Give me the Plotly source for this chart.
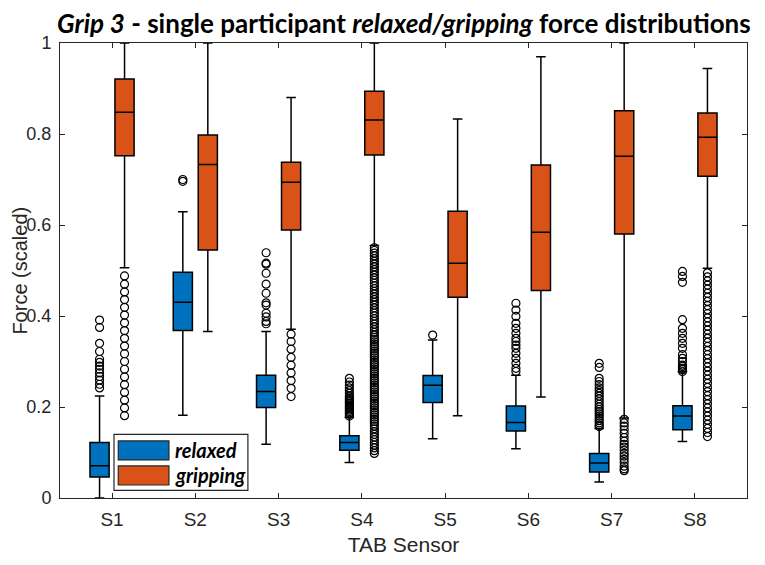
import plotly.graph_objects as go

# Sensors and box statistics
sensors = ["S1", "S2", "S3", "S4", "S5", "S6", "S7", "S8"]

relaxed_q1 = [0.046, 0.368, 0.199, 0.105, 0.210, 0.147, 0.057, 0.150]
relaxed_med = [0.071, 0.430, 0.234, 0.122, 0.248, 0.166, 0.077, 0.180]
relaxed_q3 = [0.122, 0.496, 0.270, 0.137, 0.269, 0.202, 0.098, 0.203]
relaxed_lo = [0.000, 0.182, 0.118, 0.078, 0.130, 0.108, 0.035, 0.124]
relaxed_hi = [0.224, 0.629, 0.366, 0.177, 0.347, 0.270, 0.153, 0.278]

gripping_q1 = [0.752, 0.545, 0.589, 0.754, 0.441, 0.456, 0.580, 0.707]
gripping_med = [0.848, 0.733, 0.694, 0.831, 0.516, 0.584, 0.751, 0.793]
gripping_q3 = [0.921, 0.798, 0.738, 0.894, 0.630, 0.732, 0.851, 0.846]
gripping_lo = [0.506, 0.366, 0.371, 0.555, 0.181, 0.222, 0.176, 0.505]
gripping_hi = [1.000, 1.000, 0.880, 1.000, 0.833, 0.970, 1.000, 0.944]

# Outliers per sensor
relaxed_out = [
    [0.242, 0.250, 0.259, 0.267, 0.275, 0.283, 0.290, 0.298, 0.305, 0.322, 0.340, 0.375, 0.391],
    [0.696, 0.700],
    [0.383, 0.388, 0.398, 0.406, 0.424, 0.429, 0.450, 0.470, 0.494, 0.514, 0.516, 0.539],
    [0.180, 0.184, 0.187, 0.190, 0.193, 0.196, 0.199, 0.202, 0.205, 0.208, 0.211, 0.214, 0.217,
     0.220, 0.224, 0.230, 0.236, 0.242, 0.248, 0.255, 0.263],
    [0.358],
    [0.278, 0.285, 0.296, 0.307, 0.318, 0.329, 0.336, 0.344, 0.351, 0.362, 0.373, 0.384, 0.399,
     0.413, 0.428],
    [0.157, 0.160, 0.165, 0.170, 0.175, 0.180, 0.185, 0.190, 0.195, 0.200, 0.206, 0.212, 0.218,
     0.224, 0.230, 0.236, 0.242, 0.249, 0.256, 0.263, 0.287, 0.296],
    [0.278, 0.282, 0.285, 0.289, 0.292, 0.300, 0.307, 0.315, 0.329, 0.340, 0.351, 0.362, 0.373,
     0.392, 0.474, 0.487, 0.498],
]
gripping_out = [
    [0.181, 0.198, 0.215, 0.232, 0.249, 0.266, 0.283, 0.300, 0.317, 0.334, 0.351, 0.368, 0.385,
     0.402, 0.419, 0.436, 0.453, 0.470, 0.488],
    [],
    [0.223, 0.241, 0.258, 0.275, 0.292, 0.309, 0.327, 0.344, 0.360],
    [0.098, 0.104, 0.110, 0.116, 0.122, 0.128, 0.134, 0.140, 0.146, 0.152, 0.158, 0.163, 0.168,
     0.173, 0.178, 0.183, 0.188, 0.193, 0.198, 0.203, 0.208, 0.213, 0.218, 0.223, 0.228, 0.233,
     0.238, 0.243, 0.248, 0.253, 0.258, 0.263, 0.268, 0.273, 0.278, 0.283, 0.288, 0.293, 0.298,
     0.303, 0.308, 0.313, 0.318, 0.323, 0.328, 0.333, 0.338, 0.343, 0.348, 0.353, 0.358, 0.364,
     0.370, 0.376, 0.382, 0.388, 0.394, 0.400, 0.406, 0.412, 0.418, 0.424, 0.430, 0.436, 0.442,
     0.448, 0.454, 0.460, 0.466, 0.472, 0.478, 0.484, 0.490, 0.496, 0.502, 0.508, 0.514, 0.520,
     0.526, 0.532, 0.538, 0.544, 0.550],
    [],
    [],
    [0.060, 0.064, 0.070, 0.078, 0.085, 0.092, 0.098, 0.105, 0.112, 0.118, 0.125, 0.133, 0.142,
     0.150, 0.158, 0.165, 0.173],
    [0.135, 0.144, 0.153, 0.162, 0.171, 0.180, 0.189, 0.198, 0.207, 0.216, 0.225, 0.234, 0.243,
     0.252, 0.261, 0.270, 0.279, 0.288, 0.297, 0.306, 0.315, 0.324, 0.333, 0.342, 0.351, 0.360,
     0.369, 0.378, 0.387, 0.396, 0.405, 0.414, 0.423, 0.432, 0.441, 0.450, 0.459, 0.468, 0.477,
     0.486, 0.495],
]

BLUE = "#0072BD"
ORANGE = "#D95319"
INK = "#262626"
SANS = "Arial"
OFFSET = 0.15
BOX_W = 0.23

pos = list(range(1, len(sensors) + 1))
fig = go.Figure()

groups = [
    ("relaxed", -OFFSET, BLUE, relaxed_q1, relaxed_med, relaxed_q3, relaxed_lo, relaxed_hi, relaxed_out),
    ("gripping", OFFSET, ORANGE, gripping_q1, gripping_med, gripping_q3, gripping_lo, gripping_hi, gripping_out),
]

for name, off, col, q1, med, q3, lo, hi, outs in groups:
    xs = [p + off for p in pos]
    fig.add_trace(go.Box(
        x=xs, q1=q1, median=med, q3=q3, lowerfence=lo, upperfence=hi,
        name=name, width=BOX_W, fillcolor=col, whiskerwidth=0.5,
        line=dict(color="black", width=1.5), boxpoints=False, showlegend=False,
    ))
    ox, oy = [], []
    for x, vals in zip(xs, outs):
        ox += [x] * len(vals)
        oy += vals
    fig.add_trace(go.Scatter(
        x=ox, y=oy, mode="markers", showlegend=False,
        marker=dict(symbol="circle-open", size=8, color="black", line=dict(width=1.2)),
    ))

# hand-drawn legend like MATLAB's
legend_items = [("relaxed", BLUE, 0.0836, 0.1254, 0.1045), ("gripping", ORANGE, 0.0286, 0.0704, 0.0495)]
shapes = [dict(type="rect", xref="paper", yref="paper", x0=0.0786, x1=0.2735, y0=0.0169, y1=0.140,
               fillcolor="white", line=dict(color=INK, width=1.2), layer="above")]
annotations = []
for label, col, y0, y1, yc in legend_items:
    shapes.append(dict(type="rect", xref="paper", yref="paper", x0=0.0848, x1=0.1586, y0=y0, y1=y1,
                       fillcolor=col, line=dict(color=INK, width=1.2), layer="above"))
    annotations.append(dict(x=0.1644, y=yc, xref="paper", yref="paper", xanchor="left", yanchor="middle",
                            text="<b><i>%s</i></b>" % label, showarrow=False,
                            font=dict(family="Lato", size=20, color="black")))

# y axis title placed by hand, as near the left edge as the page allows
annotations.append(dict(x=-0.0595, y=0.5, xref="paper", yref="paper", xanchor="center", yanchor="middle",
                        text="Force (scaled)", textangle=-90, showarrow=False,
                        font=dict(family=SANS, size=20, color=INK)))

# page body adds an 8px margin, so the figure is drawn 8px smaller
fig.update_layout(
    width=757, height=557,
    margin=dict(l=52, r=18, t=35, b=67),
    paper_bgcolor="white", plot_bgcolor="white",
    title=dict(text="<b><i>Grip 3</i> - single participant <i>relaxed/gripping</i> force distributions</b>",
               x=0.523, xanchor="center", y=0.972, yanchor="middle",
               font=dict(family="Lato", size=26, color="black")),
    shapes=shapes, annotations=annotations,
    font=dict(family=SANS, color=INK),
)
fig.update_xaxes(
    range=[0.375, 8.625], tickvals=pos, ticktext=sensors,
    showline=True, linecolor=INK, linewidth=1, mirror="ticks",
    ticks="inside", ticklen=5, tickcolor=INK, showgrid=False, zeroline=False,
    tickfont=dict(family=SANS, size=19, color=INK), ticklabelstandoff=4,
    title=dict(text="TAB Sensor", font=dict(family=SANS, size=21, color=INK), standoff=8),
)
fig.update_yaxes(
    range=[0, 1], tickvals=[0, 0.2, 0.4, 0.6, 0.8, 1], ticktext=["0", "0.2", "0.4", "0.6", "0.8", "1"],
    showline=True, linecolor=INK, linewidth=1, mirror="ticks",
    ticks="inside", ticklen=5, tickcolor=INK, showgrid=False, zeroline=False,
    tickfont=dict(family=SANS, size=18, color=INK), ticklabelstandoff=4,
)

fig.write_html("out.html")
